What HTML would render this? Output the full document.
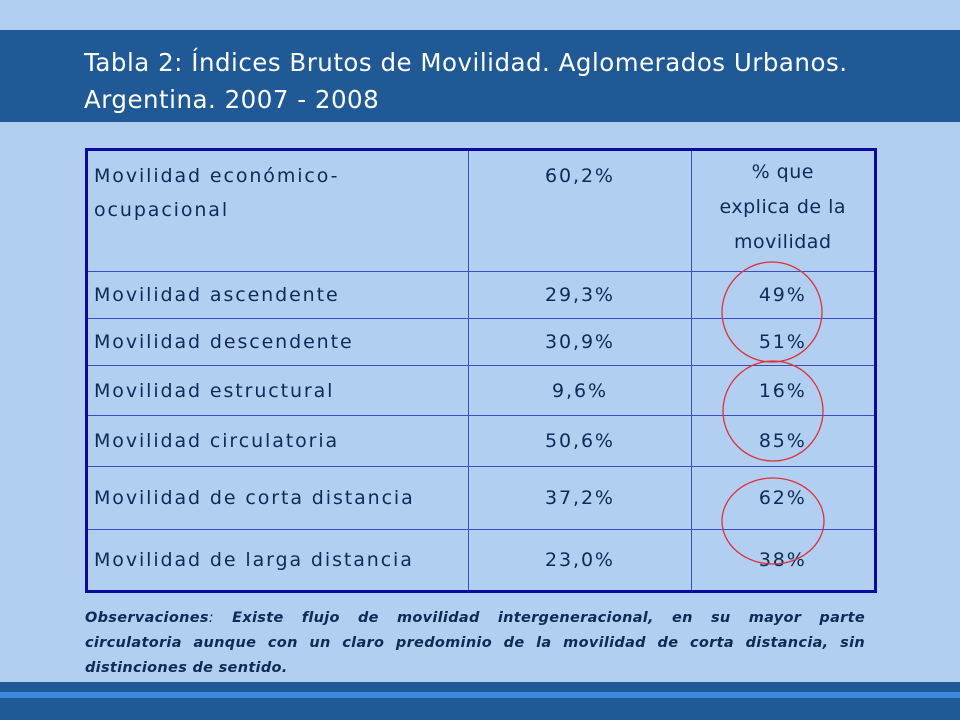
<!DOCTYPE html>
<html><head><meta charset="utf-8"><style>
body{margin:0;width:960px;height:720px;background:#b1cff0;position:relative;overflow:hidden;font-family:"DejaVu Sans","Liberation Sans",sans-serif;color:#0d2b57}
.hdr{position:absolute;left:0;top:30px;width:960px;height:92px;background:#1f5a97}
.ttl{position:absolute;left:84px;top:44px;color:#fff;font-size:24.5px;line-height:37px;margin:0;font-weight:normal;letter-spacing:0.5px;white-space:nowrap}
table{position:absolute;left:85px;top:148px;width:792px;height:442px;border-collapse:collapse;border:3px solid #0a0a9e}
td{border:1.5px solid #3d4fc0;font-size:19px;padding:0 6px;vertical-align:middle;letter-spacing:1.9px;white-space:nowrap}
td.c{text-align:center}
.obs{position:absolute;left:85px;width:780px;font-size:14.5px;font-weight:bold;font-style:italic;line-height:25px;text-align:justify;text-align-last:justify;margin:0;white-space:nowrap;letter-spacing:0.3px}
.b1{position:absolute;left:0;top:682px;width:960px;height:10px;background:#1f5a97}
.b2{position:absolute;left:0;top:692px;width:960px;height:6px;background:#3d8adb}
.b3{position:absolute;left:0;top:698px;width:960px;height:22px;background:#1f5a97}
svg{position:absolute;left:0;top:0}
</style></head><body>
<div class="hdr"></div>
<h1 class="ttl">Tabla 2: Índices Brutos de Movilidad. Aglomerados Urbanos.<br>Argentina. 2007 - 2008</h1>
<table>
<colgroup><col style="width:383px"><col style="width:224px"><col style="width:185px"></colgroup>
<tr style="height:122px"><td style="vertical-align:top;padding-top:8px;line-height:34px">Movilidad económico-<br>ocupacional</td><td class="c" style="vertical-align:top;padding-top:8px;line-height:34px">60,2%</td><td class="c" style="vertical-align:top;padding-top:4px;line-height:35px;letter-spacing:0.5px">% que<br>explica de la<br>movilidad</td></tr>
<tr style="height:47px"><td>Movilidad ascendente</td><td class="c">29,3%</td><td class="c">49%</td></tr>
<tr style="height:47px"><td>Movilidad descendente</td><td class="c">30,9%</td><td class="c">51%</td></tr>
<tr style="height:50px"><td>Movilidad estructural</td><td class="c">9,6%</td><td class="c">16%</td></tr>
<tr style="height:51px"><td>Movilidad circulatoria</td><td class="c">50,6%</td><td class="c">85%</td></tr>
<tr style="height:63px"><td>Movilidad de corta distancia</td><td class="c">37,2%</td><td class="c">62%</td></tr>
<tr style="height:62px"><td>Movilidad de larga distancia</td><td class="c">23,0%</td><td class="c">38%</td></tr>
</table>
<svg width="960" height="720">
<ellipse cx="772" cy="312" rx="50" ry="50" fill="none" stroke="#e0303a" stroke-width="1.3"/>
<ellipse cx="773" cy="411" rx="50" ry="50" fill="none" stroke="#e0303a" stroke-width="1.3"/>
<ellipse cx="773" cy="521" rx="51" ry="43" fill="none" stroke="#e0303a" stroke-width="1.3"/>
</svg>
<div>
<p class="obs" style="top:606px">Observaciones<span style="font-weight:normal">:</span> Existe flujo de movilidad intergeneracional, en su mayor parte</p>
<p class="obs" style="top:631px">circulatoria aunque con un claro predominio de la movilidad de corta distancia, sin</p>
<p class="obs" style="top:656px;text-align-last:left;width:auto">distinciones de sentido.</p>
</div>
<div class="b1"></div>
<div class="b2"></div>
<div class="b3"></div>
</body></html>
